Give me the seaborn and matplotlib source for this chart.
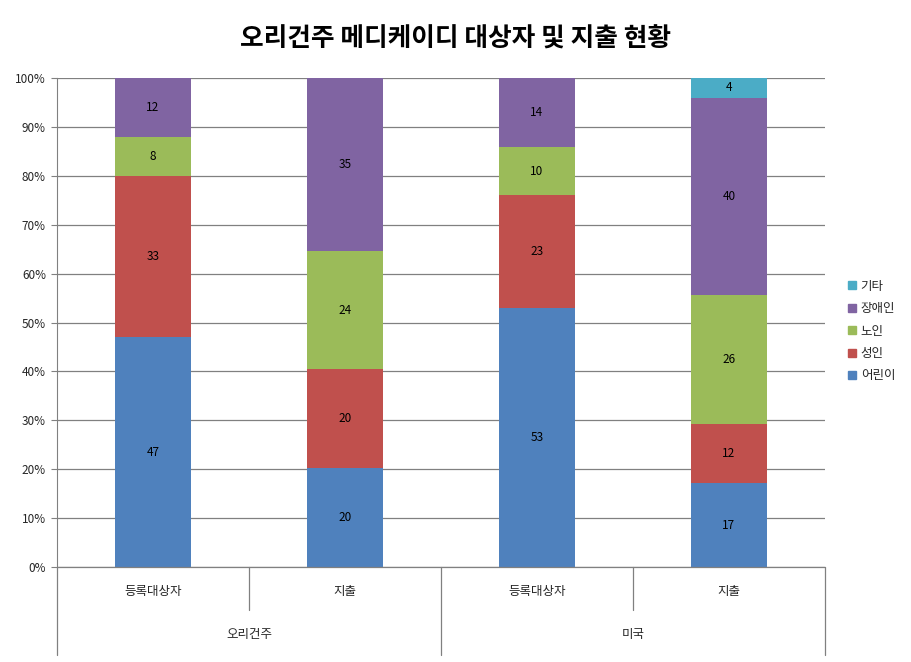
import numpy as np
import pandas as pd
import matplotlib
matplotlib.use("Agg")
import matplotlib.pyplot as plt
import matplotlib.transforms as mtransforms
from matplotlib.lines import Line2D
import seaborn as sns

# data
bars = ["오리건주 등록대상자", "오리건주 지출", "미국 등록대상자", "미국 지출"]
sub_labels = ["등록대상자", "지출", "등록대상자", "지출"]
group_labels = ["오리건주", "미국"]
series = ["어린이", "성인", "노인", "장애인", "기타"]
children = [47, 20, 53, 17]
adults = [33, 20, 23, 12]
elderly = [8, 24, 10, 26]
disabled = [12, 35, 14, 40]
others = [0, 0, 0, 4]
colors = ["#4F81BD", "#C0504D", "#9BBB59", "#8064A2", "#4BACC6"]

sns.set_style("white")
plt.rcParams["font.family"] = ["Noto Sans CJK KR", "DejaVu Sans"]

values = np.array([children, adults, elderly, disabled, others], dtype=float)
shares = values / values.sum(axis=0) * 100
cum = np.cumsum(shares, axis=0)

fig = plt.figure(figsize=(9.12, 6.62), dpi=100)
ax = fig.add_axes([0.0625, 0.1435, 0.842, 0.7385])

# draw cumulative totals from top layer down so each layer overlays the next
for i in range(len(series) - 1, -1, -1):
    df = pd.DataFrame({"bar": bars, "top": cum[i]})
    sns.barplot(data=df, x="bar", y="top", color=colors[i], saturation=1,
                width=0.4, ax=ax, linewidth=0, zorder=2)

# segment labels
for i in range(len(series)):
    for j in range(len(bars)):
        if values[i, j] == 0:
            continue
        mid = cum[i, j] - shares[i, j] / 2
        ax.text(j, mid, f"{int(values[i, j])}", ha="center", va="center",
                fontsize=8.5, color="black", zorder=3)

ax.set_ylim(0, 100)
ax.set_xlim(-0.5, 3.5)
ax.set_yticks(np.arange(0, 101, 10))
ax.set_yticklabels([f"{t}%" for t in range(0, 101, 10)], fontsize=8.5)
ax.yaxis.grid(True, color="#808080", linewidth=0.9, zorder=0)
ax.set_axisbelow(True)
ax.tick_params(axis="y", length=4, color="#808080", left=True, pad=4)
ax.set_xticks([])
ax.set_xlabel("")
ax.set_ylabel("")
for s in ["top", "right", "bottom"]:
    ax.spines[s].set_visible(False)
ax.spines["left"].set_color("#808080")

# category axis with grouped labels
trans = mtransforms.blended_transform_factory(ax.transData, ax.transAxes)
ax.plot([-0.5, 3.5], [0, 0], transform=trans, color="#808080", lw=0.9, clip_on=False)
for x in [-0.5, 1.5, 3.5]:
    ax.plot([x, x], [0, -0.18], transform=trans, color="#808080", lw=0.9, clip_on=False)
for x in [0.5, 2.5]:
    ax.plot([x, x], [0, -0.088], transform=trans, color="#808080", lw=0.9, clip_on=False)
for j, lab in enumerate(sub_labels):
    ax.text(j, -0.051, lab, transform=trans, ha="center", va="center", fontsize=9)
for g, lab in enumerate(group_labels):
    ax.text(2 * g + 0.5, -0.139, lab, transform=trans, ha="center", va="center", fontsize=9)

fig.suptitle("오리건주 메디케이디 대상자 및 지출 현황", x=0.5, y=0.962,
             fontsize=18.5, fontweight="bold", color="black")

handles = [Line2D([], [], marker="s", linestyle="", markersize=6,
                  markerfacecolor=c, markeredgecolor=c) for c in colors]
leg = fig.legend(handles[::-1], series[::-1], loc="center left",
                 bbox_to_anchor=(0.915, 0.5), frameon=False, fontsize=9,
                 handletextpad=0.2, labelspacing=0.75, handlelength=1.0)

fig.savefig("out.png", dpi=100)
